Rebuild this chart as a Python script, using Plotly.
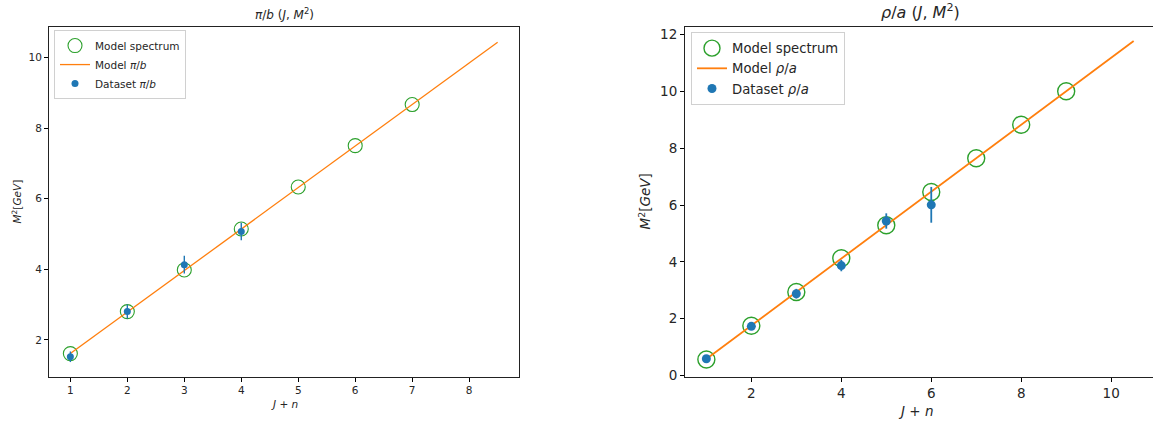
import plotly.graph_objects as go

# ---------------- data: left panel (pi/b) ----------------
pi_model_n = [1, 2, 3, 4, 5, 6, 7]
pi_model_m2 = [1.61, 2.80, 3.98, 5.14, 6.33, 7.50, 8.665]
pi_line_n = [1, 8.5]
pi_line_m2 = [1.61, 10.43]
pi_data_n = [1, 2, 3, 4]
pi_data_m2 = [1.52, 2.80, 4.13, 5.07]
pi_data_err = [0.15, 0.20, 0.25, 0.25]

# ---------------- data: right panel (rho/a) ----------------
rho_model_n = [1, 2, 3, 4, 5, 6, 7, 8, 9]
rho_model_m2 = [0.56, 1.75, 2.94, 4.13, 5.29, 6.46, 7.65, 8.83, 10.01]
rho_line_n = [1, 10.5]
rho_line_m2 = [0.58, 11.78]
rho_data_n = [1, 2, 3, 4, 5, 6]
rho_data_m2 = [0.59, 1.73, 2.88, 3.87, 5.44, 6.01]
rho_data_err = [0.06, 0.10, 0.17, 0.20, 0.27, 0.63]

left_xticks = [1, 2, 3, 4, 5, 6, 7, 8]
left_yticks = [2, 4, 6, 8, 10]
right_xticks = [2, 4, 6, 8, 10]
right_yticks = [0, 2, 4, 6, 8, 10, 12]

BLUE = "#1f77b4"
ORANGE = "#ff7f0e"
GREEN = "#2ca02c"
FONT = "DejaVu Sans"

W, H = 1153, 421      # reference picture size (layout positions measured in these pixels)
FIG_H = 428           # figure height; the capture fits it into the 421px picture


def px(x):
    return x / W


def py(y):
    return 1 - y / H


fig = go.Figure()

# left panel traces
fig.add_trace(go.Scatter(x=pi_model_n, y=pi_model_m2, mode="markers", name="Model spectrum",
                         marker=dict(symbol="circle-open", size=14, color=GREEN, line=dict(width=1.1, color=GREEN)),
                         xaxis="x", yaxis="y", legend="legend"))
fig.add_trace(go.Scatter(x=pi_line_n, y=pi_line_m2, mode="lines", name="Model <i>π</i>/<i>b</i>",
                         line=dict(color=ORANGE, width=1.3), xaxis="x", yaxis="y", legend="legend"))
fig.add_trace(go.Scatter(x=pi_data_n, y=pi_data_m2, mode="markers", name="Dataset <i>π</i>/<i>b</i>",
                         marker=dict(symbol="circle", size=7, color=BLUE),
                         error_y=dict(type="data", array=pi_data_err, color=BLUE, thickness=1.4, width=0),
                         xaxis="x", yaxis="y", legend="legend"))

# right panel traces
fig.add_trace(go.Scatter(x=rho_model_n, y=rho_model_m2, mode="markers", name="Model spectrum",
                         marker=dict(symbol="circle-open", size=17, color=GREEN, line=dict(width=1.4, color=GREEN)),
                         xaxis="x2", yaxis="y2", legend="legend2"))
fig.add_trace(go.Scatter(x=rho_line_n, y=rho_line_m2, mode="lines", name="Model <i>ρ</i>/<i>a</i>",
                         line=dict(color=ORANGE, width=1.8), xaxis="x2", yaxis="y2", legend="legend2"))
fig.add_trace(go.Scatter(x=rho_data_n, y=rho_data_m2, mode="markers", name="Dataset <i>ρ</i>/<i>a</i>",
                         marker=dict(symbol="circle", size=9, color=BLUE),
                         error_y=dict(type="data", array=rho_data_err, color=BLUE, thickness=1.8, width=0),
                         xaxis="x2", yaxis="y2", legend="legend2"))

y_dom = [py(376), py(27)]
ax_common = dict(showgrid=False, zeroline=False, ticks="outside", ticklen=4, tickwidth=1,
                 tickcolor="black", linecolor="#222", linewidth=1, showline=True)

fig.update_layout(
    width=W, height=FIG_H,
    margin=dict(l=0, r=0, t=0, b=0),
    paper_bgcolor="white", plot_bgcolor="white",
    font=dict(family=FONT, color="#262626"),
    xaxis=dict(domain=[px(49), px(519)], range=[0.625, 8.875], tickvals=left_xticks,
               tickfont=dict(size=10.5), anchor="y", mirror=True, **ax_common),
    yaxis=dict(domain=y_dom, range=[0.95, 10.86], tickvals=left_yticks,
               tickfont=dict(size=10.5), anchor="x", mirror=True, **ax_common),
    xaxis2=dict(domain=[px(685), 1.0], range=[0.525, 10.93], tickvals=right_xticks,
                tickfont=dict(size=13.5), anchor="y2", mirror=True, **ax_common),
    yaxis2=dict(domain=y_dom, range=[-0.05, 12.27], tickvals=right_yticks,
                tickfont=dict(size=13.5), anchor="x2", mirror=False, **ax_common),
    legend=dict(x=px(54), y=py(30), xanchor="left", yanchor="top",
                bgcolor="white", bordercolor="#d0d0d0", borderwidth=1,
                font=dict(size=10.5, family=FONT), tracegroupgap=0, itemwidth=30),
    legend2=dict(x=px(691), y=py(32), xanchor="left", yanchor="top",
                 bgcolor="white", bordercolor="#d0d0d0", borderwidth=1,
                 font=dict(size=13.2, family=FONT), tracegroupgap=0, itemwidth=30),
    showlegend=True,
)

annots = [
    # titles
    dict(text="<i>π</i>/<i>b</i> (<i>J</i>, <i>M</i><sup>2</sup>)", x=px(284), y=py(14),
         font=dict(size=12)),
    dict(text="<i>ρ</i>/<i>a</i> (<i>J</i>, <i>M</i><sup>2</sup>)", x=px(920), y=py(11),
         font=dict(size=16)),
    # x axis titles
    dict(text="<i>J</i> + <i>n</i>", x=px(284), y=py(403), font=dict(size=10.5)),
    dict(text="<i>J</i> + <i>n</i>", x=px(915), y=py(410), font=dict(size=13.5)),
    # y axis titles
    dict(text="<i>M</i><sup>2</sup>[<i>GeV</i>]", x=px(16), y=py(201), textangle=-90,
         font=dict(size=10.5)),
    dict(text="<i>M</i><sup>2</sup>[<i>GeV</i>]", x=px(645), y=py(201), textangle=-90,
         font=dict(size=13.5)),
]
for a in annots:
    fig.add_annotation(xref="paper", yref="paper", showarrow=False, xanchor="center",
                       yanchor="middle", **a)

fig.write_html("out.html", config={"displayModeBar": False},
               post_script="document.body.style.margin='0px';")
